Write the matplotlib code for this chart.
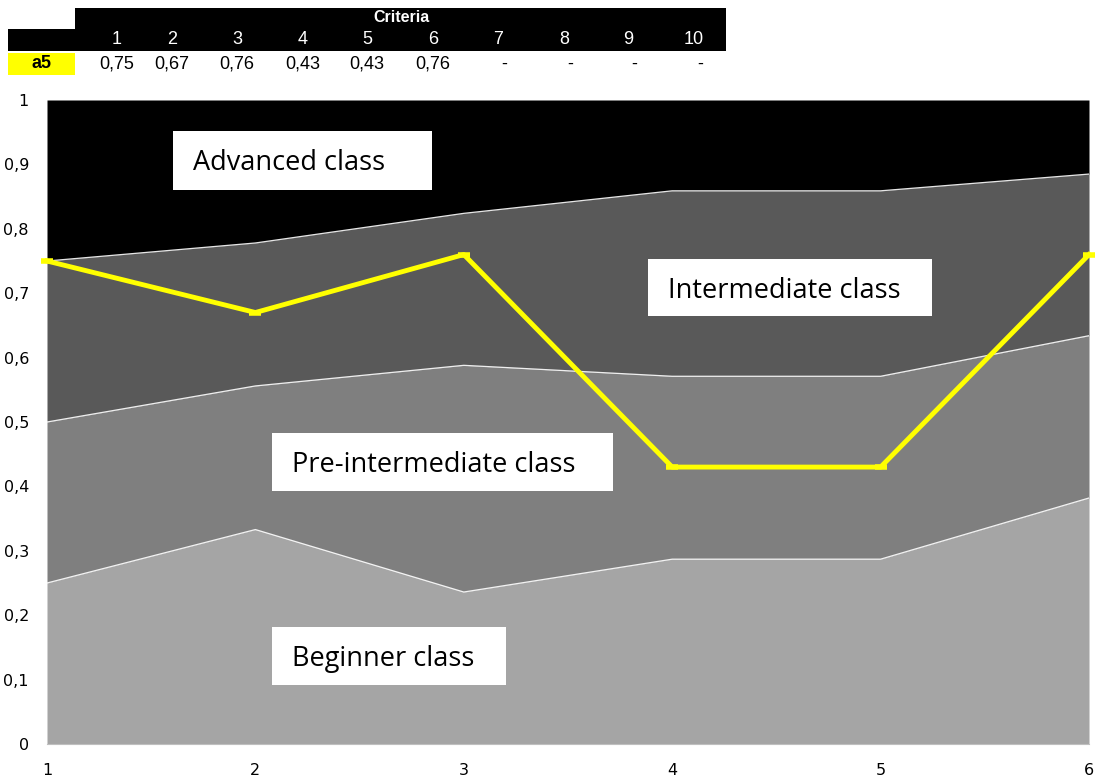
import matplotlib
matplotlib.use("Agg")
import numpy as np
from matplotlib import pyplot as plt
from matplotlib.patches import Rectangle

# criteria on the x axis
criteria = [1, 2, 3, 4, 5, 6]

# upper boundary of each class band
beginner_top = [0.25, 0.333, 0.236, 0.287, 0.287, 0.382]
pre_inter_top = [0.50, 0.556, 0.588, 0.571, 0.571, 0.634]
inter_top = [0.75, 0.778, 0.824, 0.859, 0.859, 0.885]
advanced_top = [1, 1, 1, 1, 1, 1]

# alternative a5 scores
a5 = [0.75, 0.67, 0.76, 0.43, 0.43, 0.76]

# table contents
table_cols = ['1', '2', '3', '4', '5', '6', '7', '8', '9', '10']
table_vals = ['0,75', '0,67', '0,76', '0,43', '0,43', '0,76', '-', '-', '-', '-']

y_ticks = [0, 0.1, 0.2, 0.3, 0.4, 0.5, 0.6, 0.7, 0.8, 0.9, 1]
y_labels = ['0', '0,1', '0,2', '0,3', '0,4', '0,5', '0,6', '0,7', '0,8', '0,9', '1']


def draw():
    W, H = 1099, 780
    fig = plt.figure(figsize=(W / 100, H / 100), dpi=100)
    ax = fig.add_axes([47 / W, 1 - 744 / H, (1089 - 47) / W, (744 - 100) / H])

    x = np.array(criteria)
    zero = np.zeros(len(x))
    bands = [(zero, beginner_top, '#a5a5a5'),
             (beginner_top, pre_inter_top, '#7f7f7f'),
             (pre_inter_top, inter_top, '#595959'),
             (inter_top, advanced_top, '#000000')]
    for lo, hi, c in bands:
        ax.fill_between(x, lo, hi, color=c, lw=0)
    for b in [beginner_top, pre_inter_top, inter_top]:
        ax.plot(x, b, color='white', lw=0.9, alpha=0.9)

    ax.plot(x, a5, color='#ffff00', lw=3.5, marker='_', ms=9, mew=4, clip_on=False, zorder=5)

    ax.set_xlim(1, 6)
    ax.set_ylim(0, 1)
    ax.set_xticks(criteria)
    ax.set_yticks(y_ticks)
    ax.set_yticklabels(y_labels)
    ax.tick_params(length=0, labelsize=11.5, pad=13)
    ax.tick_params(axis='x', pad=14)
    for s in ax.spines.values():
        s.set_visible(False)
    ax.spines['bottom'].set_visible(True)
    ax.spines['bottom'].set_color('#bfbfbf')

    labels = [(173, 432, 131, 190, 'Advanced class'),
              (648, 932, 259, 316, 'Intermediate class'),
              (272, 613, 433, 491, 'Pre-intermediate class'),
              (272, 506, 627, 685, 'Beginner class')]
    for x0, x1, y0, y1, t in labels:
        fig.patches.append(Rectangle((x0 / W, 1 - y1 / H), (x1 - x0) / W, (y1 - y0) / H,
                                     transform=fig.transFigure, facecolor='white',
                                     edgecolor='none', zorder=3))
        fig.text((x0 + 20) / W, 1 - ((y0 + y1) / 2 + 3) / H, t, fontsize=19.5,
                 va='center', ha='left', zorder=4, family=['Open Sans', 'DejaVu Sans'])

    # table at the top
    def rect(x0, y0, x1, y1, c):
        fig.patches.append(Rectangle((x0 / W, 1 - y1 / H), (x1 - x0) / W, (y1 - y0) / H,
                                     transform=fig.transFigure, facecolor=c,
                                     edgecolor='none'))
    rect(75, 8, 726, 51, 'black')
    rect(8, 29, 75, 51, 'black')
    rect(8, 53, 75, 75, '#ffff00')
    tf = ['Liberation Sans Narrow', 'Liberation Sans', 'DejaVu Sans']
    fig.text(401 / W, 1 - 18 / H, 'Criteria', color='white', fontsize=11.5,
             fontweight='bold', ha='center', va='center', family=tf)
    fig.text(41 / W, 1 - 64 / H, 'a5', color='black', fontsize=13,
             fontweight='bold', ha='center', va='center', family=tf)
    xs = [117, 172, 237, 303, 367, 433, 498, 564, 628, 694]
    for i, (c, v) in enumerate(zip(table_cols, table_vals)):
        fig.text(xs[i] / W, 1 - 40 / H, c, color='white', fontsize=13,
                 ha='center', va='center', family=tf)
        fig.text((xs[i] + (6 if v == '-' else 0)) / W, 1 - 64 / H, v, color='black',
                 fontsize=13, ha='center', va='center', family=tf)

    fig.savefig('out.png', dpi=100)


if __name__ == '__main__':
    draw()
